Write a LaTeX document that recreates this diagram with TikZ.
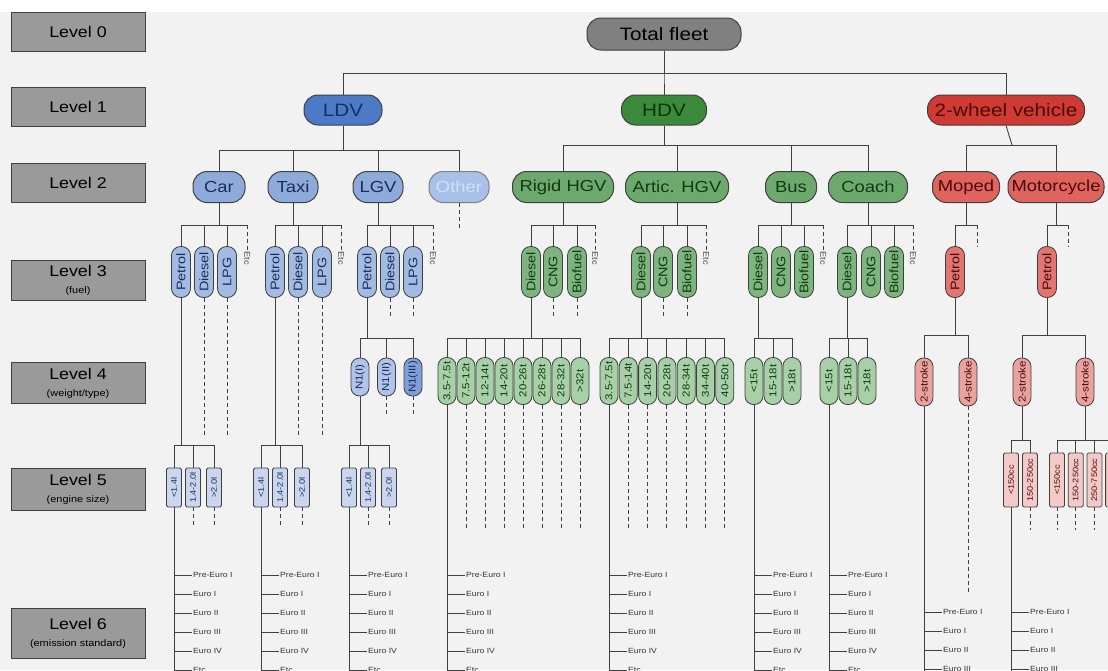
\documentclass[tikz,border=0pt]{standalone}
\usepackage{graphicx}
\usepackage{fontspec}
\setmainfont{Liberation Sans}[FakeStretch=1.15]

\definecolor{bgC}{HTML}{F2F2F2}
\definecolor{lvlC}{HTML}{9A9A9A}
\definecolor{lineC}{HTML}{404040}
\definecolor{rootC}{HTML}{808080}
\definecolor{ldvC}{HTML}{4C7AC7}
\definecolor{ldvT}{HTML}{17305E}
\definecolor{blueB}{HTML}{8EAADB}
\definecolor{blueT}{HTML}{1A2D5A}
\definecolor{otherC}{HTML}{A9C1E8}
\definecolor{otherT}{HTML}{D4E0F4}
\definecolor{blueC}{HTML}{A3BBE3}
\definecolor{blueD}{HTML}{AFC4E8}
\definecolor{blueDD}{HTML}{7F9FDB}
\definecolor{blueE}{HTML}{C9D6EE}
\definecolor{hdvC}{HTML}{3A8A3A}
\definecolor{hdvT}{HTML}{0C330C}
\definecolor{greenB}{HTML}{6DA96D}
\definecolor{greenT}{HTML}{123A12}
\definecolor{greenC}{HTML}{7EB57E}
\definecolor{greenD}{HTML}{A8D0A8}
\definecolor{twC}{HTML}{CF3A33}
\definecolor{twT}{HTML}{4A0A0A}
\definecolor{redB}{HTML}{E0645E}
\definecolor{redC}{HTML}{E27570}
\definecolor{redD}{HTML}{E9A29E}
\definecolor{redE}{HTML}{F3CAC7}

\def\lvlsub#1{{\fontsize{9.5}{10}\selectfont #1}}

\begin{document}
\begin{tikzpicture}[x=1pt,y=-1pt,
	link/.style={draw=lineC,line width=0.9pt},
	dashlink/.style={link,dash pattern=on 4pt off 3pt},
	lvl/.style={draw=lineC,fill=lvlC,line width=1pt,minimum width=134pt,minimum height=39pt,
		inner sep=1pt,align=center,font=\fontsize{15.5}{17}\selectfont},
	headnode/.style={draw=lineC,line width=1pt,rounded corners=14pt,minimum height=30pt,
		inner sep=0pt,font=\fontsize{18}{20}\selectfont},
	kind/.style={headnode,minimum height=31pt,font=\fontsize{16}{18}\selectfont},
	fuel/.style={draw=lineC,line width=0.8pt,rounded corners=9pt,minimum width=19pt,
		minimum height=51pt,inner sep=0pt,font=\fontsize{12.5}{13}\selectfont},
	wgt/.style={fuel,rounded corners=8.5pt,minimum width=18pt,minimum height=47pt,
		font=\fontsize{10}{11}\selectfont},
	eng/.style={draw=lineC,line width=0.8pt,rounded corners=1.5pt,minimum width=15pt,
		minimum height=39pt,inner sep=0pt,font=\fontsize{8}{9}\selectfont},
	etclabel/.style={inner sep=1pt,font=\fontsize{8}{9}\selectfont,text=lineC},
	euro/.style={anchor=west,inner sep=1pt,font=\fontsize{7.5}{8}\selectfont,text=black!80}]

\useasboundingbox (0,0) rectangle (1108,670);
\clip (0,0) rectangle (1108,670);
\fill[white] (0,0) rectangle (1108,670);
\fill[bgC] (0,12) rectangle (1108,670);

%Bus lines
\coordinate (bus0) at (0,73);
\coordinate (bus1a) at (0,150);
\coordinate (bus1b) at (0,145);
\coordinate (bus2) at (0,225);
\coordinate (bus3) at (0,338);
\coordinate (bus3b) at (0,335);
\coordinate (bus4) at (0,445);
\coordinate (bus4b) at (0,440);
\coordinate (bottom) at (0,676);

%Levels
\node[lvl] (lvl0) at (78,32) {Level 0};
\node[lvl] (lvl1) at (78,107) {Level 1};
\node[lvl] (lvl2) at (78,183) {Level 2};
\node[lvl,minimum height=40pt] (lvl3) at (78,280) {Level 3\\\lvlsub{(fuel)}};
\node[lvl,minimum height=41pt] (lvl4) at (78,383) {Level 4\\\lvlsub{(weight/type)}};
\node[lvl,minimum height=42pt] (lvl5) at (78,489) {Level 5\\\lvlsub{(engine size)}};
\node[lvl,minimum height=50pt] (lvl6) at (78,633) {Level 6\\\lvlsub{(emission standard)}};

%Level 0 and 1
\node[headnode,fill=rootC,minimum width=154pt,minimum height=32pt] (fleet) at (664,34) {Total fleet};
\node[headnode,fill=ldvC,text=ldvT,minimum width=78pt] (ldv) at (343,110) {LDV};
\node[headnode,fill=hdvC,text=hdvT,minimum width=85pt] (hdv) at (664,110) {HDV};
\node[headnode,fill=twC,text=twT,minimum width=157pt] (tw) at (1006,110) {2-wheel vehicle};
\foreach \c in {ldv,hdv,tw}
	\draw[link] (fleet.south) |- (bus0 -| \c) -- (\c.north);

%Level 2
\node[kind,fill=blueB,text=blueT,minimum width=52pt] (car) at (219,187) {Car};
\node[kind,fill=blueB,text=blueT,minimum width=50pt] (taxi) at (293,187) {Taxi};
\node[kind,fill=blueB,text=blueT,minimum width=50pt] (lgv) at (378,187) {LGV};
\node[kind,fill=otherC,text=otherT,draw=gray,minimum width=60pt] (other) at (459,187) {Other};
\node[kind,fill=greenB,text=greenT,minimum width=101pt] (rigid) at (563,187) {Rigid HGV};
\node[kind,fill=greenB,text=greenT,minimum width=103pt] (artic) at (677,187) {Artic. HGV};
\node[kind,fill=greenB,text=greenT,minimum width=51pt] (bus) at (791,187) {Bus};
\node[kind,fill=greenB,text=greenT,minimum width=79pt] (coach) at (868,187) {Coach};
\node[kind,fill=redB,text=twT,minimum width=67pt] (moped) at (966,187) {Moped};
\node[kind,fill=redB,text=twT,minimum width=96pt] (moto) at (1056,187) {Motorcycle};
\foreach \c in {car,taxi,lgv,other}
	\draw[link] (ldv.south) |- (bus1a -| \c) -- (\c.north);
\foreach \c in {rigid,artic,bus,coach}
	\draw[link] (hdv.south) |- (bus1b -| \c) -- (\c.north);
\coordinate (twbend) at (1012,145);
\draw[link] (tw.south) -- (twbend);
\foreach \c in {moped,moto}
	\draw[link] (twbend) -| (\c.north);
\draw[dashlink] (other.south) -- ++(0,26) coordinate (other-end);

%Level 3
\foreach \g/\xa/\xb/\xc/\xe in {car/181/204/227/247,taxi/275/298/322/341,lgv/367/390/413/433}{
	\node[fuel,fill=blueC,text=blueT] (\g-petrol) at (\xa,272) {\rotatebox{90}{Petrol}};
	\node[fuel,fill=blueC,text=blueT] (\g-diesel) at (\xb,272) {\rotatebox{90}{Diesel}};
	\node[fuel,fill=blueC,text=blueT] (\g-lpg) at (\xc,272) {\rotatebox{90}{LPG}};
	\node[etclabel] (\g-etc) at (\xe,258) {\rotatebox{-90}{Etc}};
	\foreach \f in {petrol,diesel,lpg}
		\draw[link] (\g.south) |- (bus2 -| \g-\f) -- (\g-\f.north);
	\draw[link] (\g.south) |- (bus2 -| \g-etc);
	\draw[dashlink] (bus2 -| \g-etc) -- (\g-etc.north);
}
\foreach \g/\xa/\xb/\xc/\xe in {rigid/531/553/577/595,artic/641/663/687/706,bus/758/781/804/823,coach/847/871/894/913}{
	\node[fuel,fill=greenC,text=greenT] (\g-diesel) at (\xa,272) {\rotatebox{90}{Diesel}};
	\node[fuel,fill=greenC,text=greenT] (\g-cng) at (\xb,272) {\rotatebox{90}{CNG}};
	\node[fuel,fill=greenC,text=greenT] (\g-bio) at (\xc,272) {\rotatebox{90}{Biofuel}};
	\node[etclabel] (\g-etc) at (\xe,258) {\rotatebox{-90}{Etc}};
	\foreach \f in {diesel,cng,bio}
		\draw[link] (\g.south) |- (bus2 -| \g-\f) -- (\g-\f.north);
	\draw[link] (\g.south) |- (bus2 -| \g-etc);
	\draw[dashlink] (bus2 -| \g-etc) -- (\g-etc.north);
}
\foreach \g/\xa/\xe in {moped/955/977,moto/1047/1068}{
	\node[fuel,fill=redC,text=twT] (\g-petrol) at (\xa,272) {\rotatebox{90}{Petrol}};
	\coordinate (\g-etc) at (\xe,247);
	\draw[link] (\g.south) |- (bus2 -| \g-petrol) -- (\g-petrol.north);
	\draw[link] (\g.south) |- (bus2 -| \g-etc);
	\draw[dashlink] (bus2 -| \g-etc) -- (\g-etc);
}
%fuels not split further
\foreach \p/\l in {car-diesel/140,car-lpg/140,taxi-diesel/140,taxi-lpg/140,lgv-diesel/20,lgv-lpg/20,
	rigid-cng/20,rigid-bio/20,artic-cng/20,artic-bio/20}
	\draw[dashlink] (\p.south) -- ++(0,\l) coordinate (\p-end);

%Level 4
\foreach \t/\c [count=\n] in {N1(I)/blueD,N1(II)/blueD,N1(III)/blueDD}{
	\node[wgt,fill=\c,text=blueT,minimum height=38pt] (lgv-w\n) at ({360+26.5*(\n-1)},377) {\rotatebox{90}{\t}};
	\draw[link] (lgv-petrol.south) |- (bus3 -| lgv-w\n) -- (lgv-w\n.north);
}
\foreach \t [count=\n] in {3.5-7.5t,7.5-12t,12-14t,14-20t,20-26t,26-28t,28-32t,>32t}{
	\node[wgt,fill=greenD,text=greenT] (rigid-w\n) at ({447+19*(\n-1)},381) {\rotatebox{90}{\t}};
	\draw[link] (rigid-diesel.south) |- (bus3 -| rigid-w\n) -- (rigid-w\n.north);
}
\foreach \t [count=\n] in {3.5-7.5t,7.5-14t,14-20t,20-28t,28-34t,34-40t,40-50t}{
	\node[wgt,fill=greenD,text=greenT] (artic-w\n) at ({609+19.3*(\n-1)},381) {\rotatebox{90}{\t}};
	\draw[link] (artic-diesel.south) |- (bus3 -| artic-w\n) -- (artic-w\n.north);
}
\foreach \g/\x in {bus/754,coach/829}{
	\foreach \t [count=\n] in {<15t,15-18t,>18t}{
		\node[wgt,fill=greenD,text=greenT] (\g-w\n) at ({\x+19*(\n-1)},381) {\rotatebox{90}{\t}};
		\draw[link] (\g-diesel.south) |- (bus3 -| \g-w\n) -- (\g-w\n.north);
	}
}
\foreach \g/\xa/\xb in {moped/924/968,moto/1022/1085}{
	\node[wgt,fill=redD,text=twT,minimum height=48pt] (\g-w1) at (\xa,382) {\rotatebox{90}{2-stroke}};
	\node[wgt,fill=redD,text=twT,minimum height=48pt] (\g-w2) at (\xb,382) {\rotatebox{90}{4-stroke}};
	\foreach \n in {1,2}
		\draw[link] (\g-petrol.south) |- (bus3b -| \g-w\n) -- (\g-w\n.north);
}
\foreach \p/\l in {lgv-w2/20,lgv-w3/20,rigid-w2/125,rigid-w3/125,rigid-w4/125,rigid-w5/125,rigid-w6/125,
	rigid-w7/125,rigid-w8/125,artic-w2/125,artic-w3/125,artic-w4/125,artic-w5/125,artic-w6/125,
	artic-w7/125,moped-w2/187}
	\draw[dashlink] (\p.south) -- ++(0,\l) coordinate (\p-end);

%Level 5
\foreach \g/\p/\xa/\xb/\xc in {car/car-petrol/174/193/214,taxi/taxi-petrol/261/280/302,lgv/lgv-w1/349/368/389}{
	\node[eng,fill=blueE,text=blueT] (\g-c1) at (\xa,487.5) {\rotatebox{90}{<1.4l}};
	\node[eng,fill=blueE,text=blueT] (\g-c2) at (\xb,487.5) {\rotatebox{90}{1.4-2.0l}};
	\node[eng,fill=blueE,text=blueT] (\g-c3) at (\xc,487.5) {\rotatebox{90}{>2.0l}};
	\foreach \n in {1,2,3}
		\draw[link] (\p.south) |- (bus4 -| \g-c\n) -- (\g-c\n.north);
	\foreach \n in {2,3}
		\draw[dashlink] (\g-c\n.south) -- ++(0,18) coordinate (\g-c\n-end);
}
\foreach \t [count=\n] in {<150cc,150-250cc}{
	\node[eng,fill=redE,text=twT,minimum height=54pt] (moto2-c\n) at ({1011+19*(\n-1)},480) {\rotatebox{90}{\t}};
	\draw[link] (moto-w1.south) |- (bus4b -| moto2-c\n) -- (moto2-c\n.north);
}
\foreach \t [count=\n] in {<150cc,150-250cc,250-750cc,>750cc}{
	\node[eng,fill=redE,text=twT,minimum height=54pt] (moto4-c\n) at ({1057+18.7*(\n-1)},480) {\rotatebox{90}{\t}};
	\draw[link] (moto-w2.south) |- (bus4b -| moto4-c\n) -- (moto4-c\n.north);
	\draw[dashlink] (moto4-c\n.south) -- ++(0,23) coordinate (moto4-c\n-end);
}
\draw[dashlink] (moto2-c2.south) -- ++(0,23) coordinate (moto2-c2-end);

%Level 6
\foreach \s/\y in {car-c1/575,taxi-c1/575,lgv-c1/575,rigid-w1/575,artic-w1/575,bus-w1/575,coach-w1/575,
	moped-w1/612,moto2-c1/612}{
	\draw[link] (\s.south) -- (\s.south |- bottom) coordinate (\s-end);
	\foreach \t [count=\i from 0] in {Pre-Euro I,Euro I,Euro II,Euro III,Euro IV,Etc}{
		\pgfmathsetmacro\yy{\y+19*\i}
		\coordinate (\s-t\i) at (\s.south |- 0,\yy);
		\node[euro] (\s-e\i) at ([xshift=18pt]\s-t\i) {\t};
		\draw[link] (\s-t\i) -- (\s-e\i.west);
	}
}

\end{tikzpicture}
\end{document}
